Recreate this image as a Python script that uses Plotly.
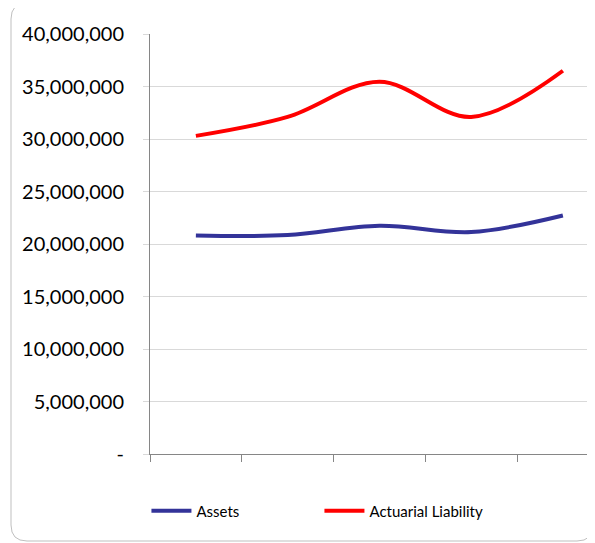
import plotly.graph_objects as go

# Values (5 periods, no x labels shown)
periods = ["1", "2", "3", "4", "5"]
assets = [20.82e6, 20.85e6, 21.74e6, 21.14e6, 22.72e6]
liability = [30.3e6, 32.1e6, 35.45e6, 32.1e6, 36.5e6]

y_ticks = [0, 5e6, 10e6, 15e6, 20e6, 25e6, 30e6, 35e6, 40e6]
y_labels = ["-", "5,000,000", "10,000,000", "15,000,000", "20,000,000",
            "25,000,000", "30,000,000", "35,000,000", "40,000,000"]

# page body has an 8px margin, so the figure starts at (8, 8)
OFF = 8
W, H = 595 - OFF, 543 - OFF
L, T = 150 - OFF, 34 - OFF
B = H - (454 - OFF)
plot_w, plot_h = W - L, H - T - B


def px_x(p):
    return (p - OFF - L) / plot_w


def px_y(p):
    return (H - B - (p - OFF)) / plot_h


fig = go.Figure()
fig.add_trace(go.Scatter(
    x=periods, y=assets, name="Assets", mode="lines",
    line=dict(color="#333399", width=4, shape="spline", smoothing=1),
))
fig.add_trace(go.Scatter(
    x=periods, y=liability, name="Actuarial Liability", mode="lines",
    line=dict(color="#FF0000", width=4, shape="spline", smoothing=1),
))

# rounded chart-area frame
x0, x1 = px_x(11), px_x(593)
y0, y1 = px_y(541), px_y(3)
rx, ry = 16 / plot_w, 16 / plot_h
frame = (f"M {x0+rx},{y1} L {x1-rx},{y1} Q {x1},{y1} {x1},{y1-ry} "
         f"L {x1},{y0+ry} Q {x1},{y0} {x1-rx},{y0} L {x0+rx},{y0} "
         f"Q {x0},{y0} {x0},{y0+ry} L {x0},{y1-ry} Q {x0},{y1} {x0+rx},{y1} Z")
fig.add_shape(type="path", path=frame, xref="paper", yref="paper",
              line=dict(color="#bfbfbf", width=1), layer="below")

fig.update_layout(
    width=W, height=H,
    margin=dict(l=L, r=0, t=T, b=B, pad=0),
    paper_bgcolor="white", plot_bgcolor="white",
    font=dict(family="Lato, sans-serif", color="#000000"),
    showlegend=True,
    legend=dict(
        orientation="h", x=-0.008, y=px_y(511), xanchor="left", yanchor="middle",
        font=dict(size=15), itemwidth=40, entrywidth=118, bgcolor="rgba(0,0,0,0)",
    ),
    xaxis=dict(
        type="category", range=[-0.5, 4.35], tickson="boundaries",
        showticklabels=False, ticks="outside", ticklen=7, tickcolor="#868686",
        showline=True, linecolor="#868686", linewidth=1, showgrid=False,
        zeroline=False,
    ),
    yaxis=dict(
        range=[0, 40e6], tickvals=y_ticks, ticktext=y_labels,
        ticks="outside", ticklen=6, tickcolor="#d9d9d9",
        ticklabelstandoff=15, tickfont=dict(size=20),
        showline=True, linecolor="#868686", linewidth=1,
        showgrid=True, gridcolor="#d9d9d9", gridwidth=1, zeroline=False,
    ),
)

fig.write_html("out.html")
